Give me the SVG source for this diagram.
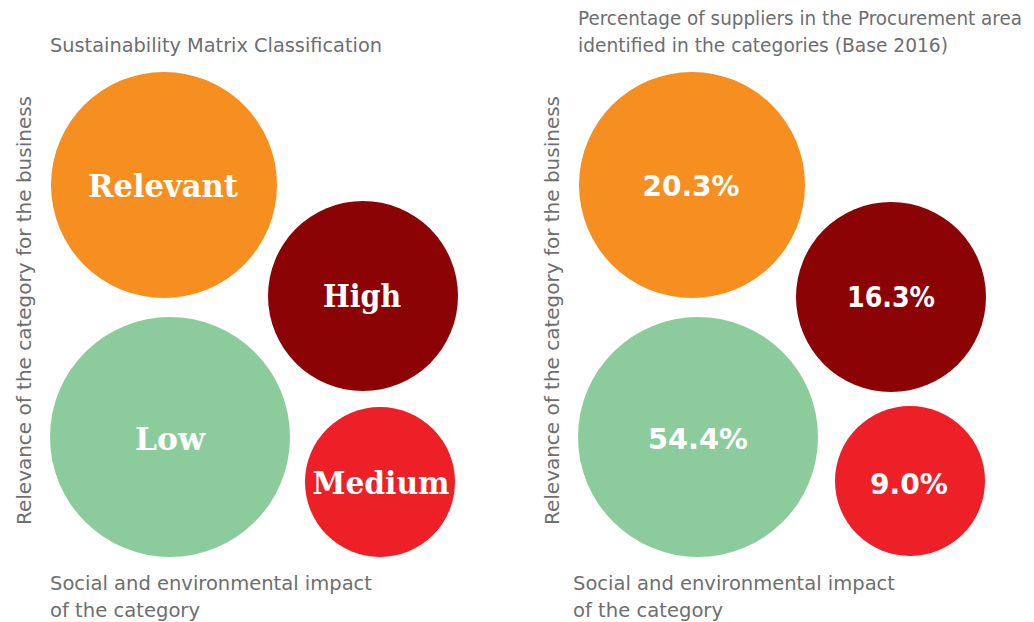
<svg xmlns="http://www.w3.org/2000/svg" width="1034" height="622" viewBox="0 0 1034 622">
<style>
.cap{font-family:"DejaVu Sans","Liberation Sans",sans-serif;font-size:20px;fill:#6d6e70}
.lab{font-family:"DejaVu Serif","Liberation Serif",serif;font-weight:bold;font-size:31px;fill:#ffffff;text-anchor:middle}
.pct{font-family:"DejaVu Sans","Liberation Sans",sans-serif;font-weight:bold;font-size:29px;fill:#ffffff;text-anchor:middle}
.or{fill:#f68f1f}.dr{fill:#8b0304}.gr{fill:#8ccc9c}.rd{fill:#ed1f27}
</style>
<rect width="1034" height="622" fill="#ffffff"/>
<g id="left-panel">
<text class="cap" x="50" y="52" textLength="332" lengthAdjust="spacingAndGlyphs">Sustainability Matrix Classification</text>
<text class="cap" transform="translate(31,525) rotate(-90)" textLength="429" lengthAdjust="spacingAndGlyphs">Relevance of the category for the business</text>
<text class="cap" x="50" y="590" textLength="322" lengthAdjust="spacingAndGlyphs">Social and environmental impact</text>
<text class="cap" x="50" y="617" textLength="150" lengthAdjust="spacingAndGlyphs">of the category</text>
</g>
<g id="node-relevant"><circle class="or" cx="164" cy="185" r="113"/><text class="lab" x="163" y="197" textLength="150" lengthAdjust="spacingAndGlyphs">Relevant</text></g>
<g id="node-high"><circle class="dr" cx="363" cy="296" r="95"/><text class="lab" x="362" y="307" textLength="78" lengthAdjust="spacingAndGlyphs">High</text></g>
<g id="node-low"><circle class="gr" cx="170" cy="437" r="120"/><text class="lab" x="170" y="450" textLength="70" lengthAdjust="spacingAndGlyphs">Low</text></g>
<g id="node-medium"><circle class="rd" cx="380" cy="482" r="75"/><text class="lab" x="381" y="494" textLength="137" lengthAdjust="spacingAndGlyphs">Medium</text></g>
<g id="right-panel">
<text class="cap" x="1022" y="25" text-anchor="end" textLength="444" lengthAdjust="spacingAndGlyphs">Percentage of suppliers in the Procurement area</text>
<text class="cap" x="578" y="52" textLength="370" lengthAdjust="spacingAndGlyphs">identified in the categories (Base 2016)</text>
<text class="cap" transform="translate(559,525) rotate(-90)" textLength="429" lengthAdjust="spacingAndGlyphs">Relevance of the category for the business</text>
<text class="cap" x="573" y="590" textLength="322" lengthAdjust="spacingAndGlyphs">Social and environmental impact</text>
<text class="cap" x="573" y="617" textLength="150" lengthAdjust="spacingAndGlyphs">of the category</text>
</g>
<g id="node-20"><circle class="or" cx="692" cy="185" r="113"/><text class="pct" x="691" y="196" textLength="97" lengthAdjust="spacingAndGlyphs">20.3%</text></g>
<g id="node-16"><circle class="dr" cx="891" cy="297" r="95"/><text class="pct" x="891" y="307" textLength="88" lengthAdjust="spacingAndGlyphs">16.3%</text></g>
<g id="node-54"><circle class="gr" cx="698" cy="437" r="120"/><text class="pct" x="698" y="449" textLength="100" lengthAdjust="spacingAndGlyphs">54.4%</text></g>
<g id="node-9"><circle class="rd" cx="910" cy="481" r="75"/><text class="pct" x="909" y="494" textLength="78" lengthAdjust="spacingAndGlyphs">9.0%</text></g>
<g id="connectors"/>
</svg>
